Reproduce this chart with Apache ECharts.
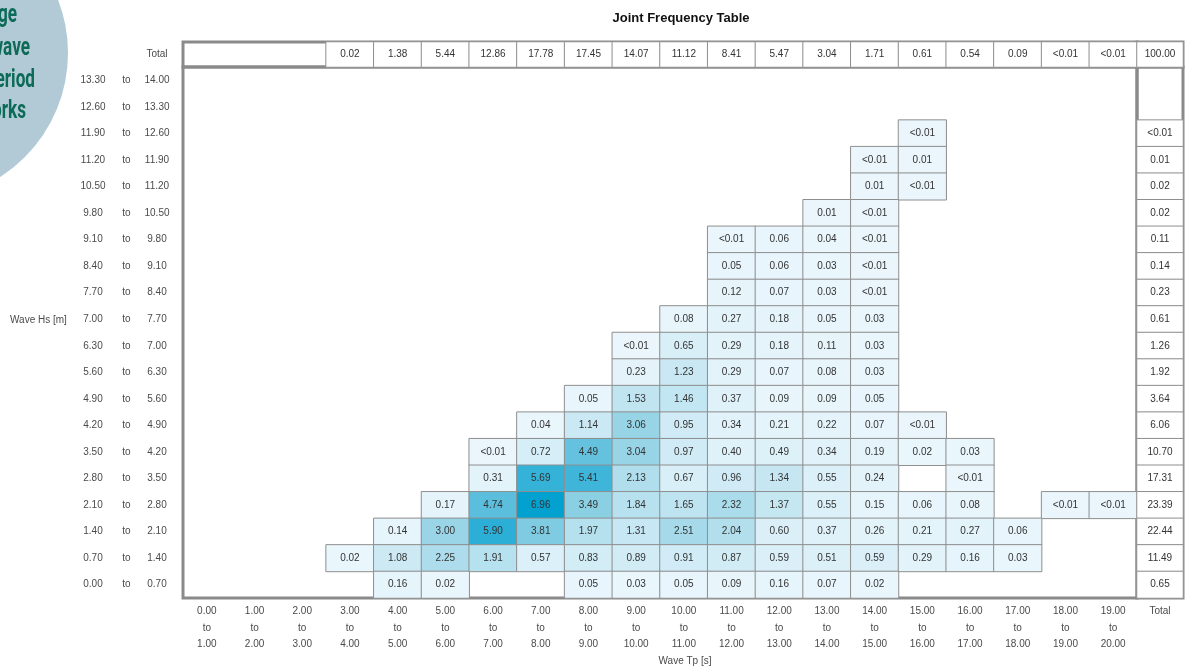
<!DOCTYPE html>
<html>
<head>
<meta charset="utf-8">
<script src="https://cdn.jsdelivr.net/npm/echarts@6/dist/echarts.min.js"></script>
<style>
  html, body { margin: 0; padding: 0; background: #fff; }
  #chart { width: 1186px; height: 666px; }
</style>
</head>
<body>
<div id="chart"></div>
<script>
// Wave period (Tp) bin edges, seconds
const tpEdges = ['0.00','1.00','2.00','3.00','4.00','5.00','6.00','7.00','8.00','9.00','10.00',
                 '11.00','12.00','13.00','14.00','15.00','16.00','17.00','18.00','19.00','20.00'];
// Significant wave height (Hs) bin edges, metres
const hsEdges = ['0.00','0.70','1.40','2.10','2.80','3.50','4.20','4.90','5.60','6.30','7.00',
                 '7.70','8.40','9.10','9.80','10.50','11.20','11.90','12.60','13.30','14.00'];

// Occurrence [%] per Hs bin, listed from the highest Hs row (13.30-14.00) down to 0.00-0.70.
// Columns follow tpEdges (0-1 s ... 19-20 s); '' = no occurrence.
const freqRows = [
  ['','','','','','','','','','','','','','','','','','','',''],
  ['','','','','','','','','','','','','','','','','','','',''],
  ['','','','','','','','','','','','','','','','<0.01','','','',''],
  ['','','','','','','','','','','','','','','<0.01','0.01','','','',''],
  ['','','','','','','','','','','','','','','0.01','<0.01','','','',''],
  ['','','','','','','','','','','','','','0.01','<0.01','','','','',''],
  ['','','','','','','','','','','','<0.01','0.06','0.04','<0.01','','','','',''],
  ['','','','','','','','','','','','0.05','0.06','0.03','<0.01','','','','',''],
  ['','','','','','','','','','','','0.12','0.07','0.03','<0.01','','','','',''],
  ['','','','','','','','','','','0.08','0.27','0.18','0.05','0.03','','','','',''],
  ['','','','','','','','','','<0.01','0.65','0.29','0.18','0.11','0.03','','','','',''],
  ['','','','','','','','','','0.23','1.23','0.29','0.07','0.08','0.03','','','','',''],
  ['','','','','','','','','0.05','1.53','1.46','0.37','0.09','0.09','0.05','','','','',''],
  ['','','','','','','','0.04','1.14','3.06','0.95','0.34','0.21','0.22','0.07','<0.01','','','',''],
  ['','','','','','','<0.01','0.72','4.49','3.04','0.97','0.40','0.49','0.34','0.19','0.02','0.03','','',''],
  ['','','','','','','0.31','5.69','5.41','2.13','0.67','0.96','1.34','0.55','0.24','','<0.01','','',''],
  ['','','','','','0.17','4.74','6.96','3.49','1.84','1.65','2.32','1.37','0.55','0.15','0.06','0.08','','<0.01','<0.01'],
  ['','','','','0.14','3.00','5.90','3.81','1.97','1.31','2.51','2.04','0.60','0.37','0.26','0.21','0.27','0.06','',''],
  ['','','','0.02','1.08','2.25','1.91','0.57','0.83','0.89','0.91','0.87','0.59','0.51','0.59','0.29','0.16','0.03','',''],
  ['','','','','0.16','0.02','','','0.05','0.03','0.05','0.09','0.16','0.07','0.02','','','','','']
];

// Row totals per Hs bin (same top-down order as freqRows)
const hsTotals = ['','','<0.01','0.01','0.02','0.02','0.11','0.14','0.23','0.61',
                  '1.26','1.92','3.64','6.06','10.70','17.31','23.39','22.44','11.49','0.65'];
// Column totals per Tp bin
const tpTotals = ['','','','0.02','1.38','5.44','12.86','17.78','17.45','14.07',
                  '11.12','8.41','5.47','3.04','1.71','0.61','0.54','0.09','<0.01','<0.01'];
const grandTotal = '100.00';

// Badge wording in the top-left corner
const badgeLines = ['Average', 'wave', 'period', 'works'];

// "<0.01" entries are coloured as half of the stated bound
const toValue = s => s.startsWith('<') ? parseFloat(s.slice(1)) / 2 : parseFloat(s);

const nRows = freqRows.length;
const cells = [];
freqRows.forEach((row, r) => {
  row.forEach((s, c) => { if (s) cells.push([c, nRows - 1 - r, toValue(s), s]); });
});
const colTotalCells = [];
tpTotals.forEach((s, c) => { if (s) colTotalCells.push([c, 0, toValue(s), s]); });
const rowTotalCells = [];
hsTotals.forEach((s, r) => { if (s) rowTotalCells.push([0, nRows - 1 - r, toValue(s), s]); });

const tpCats = tpEdges.slice(0, -1).map((lo, i) => lo + '-' + tpEdges[i + 1]);
const hsCats = hsEdges.slice(0, -1).map((lo, i) => lo + '-' + hsEdges[i + 1]);

const FONT = "'Liberation Sans', Arial, sans-serif";
const TXT = '#4a4a4a';
const FRAME = { show: true, borderColor: '#8a8a8a', borderWidth: 3, backgroundColor: 'transparent' };
const cellStyle = { borderColor: '#8e8e8e', borderWidth: 1 };
const cellLabel = { show: true, fontSize: 10, fontFamily: FONT, color: '#333', formatter: p => p.data[3] };
const rangeRich = {
  a: { width: 34, align: 'center', fontSize: 10, fontFamily: FONT, color: TXT },
  b: { width: 33, align: 'center', fontSize: 10, fontFamily: FONT, color: TXT },
  c: { width: 28, align: 'center', fontSize: 10, fontFamily: FONT, color: TXT }
};
const hidden = { axisLine: { show: false }, axisTick: { show: false }, axisLabel: { show: false }, splitLine: { show: false } };

// badge text: bold, horizontally condensed, right edges partly cut by the page edge
const badgeRight = [17, 30, 35, 26];
const badgeY = [15, 48, 80, 111];
const badgeText = badgeLines.map((t, i) => ({
  type: 'text', x: badgeRight[i], y: badgeY[i], scaleX: 0.66, silent: true, z: 1,
  style: { text: t, textAlign: 'right', textVerticalAlign: 'middle',
           font: "bold 26px Roboto, 'Open Sans', sans-serif", fill: '#0c6a57' }
}));

const chart = echarts.init(document.getElementById('chart'), null, { renderer: 'canvas' });
chart.setOption({
  animation: false,
  backgroundColor: '#fff',
  title: {
    text: 'Joint Frequency Table',
    left: 676, top: 7, textAlign: 'center',
    textStyle: { fontSize: 13, fontWeight: 'bold', fontFamily: FONT, color: '#111' }
  },
  grid: [
    Object.assign({ left: 183, top: 67, width: 954, height: 531 }, FRAME),   // frequency cells
    Object.assign({ left: 183, top: 42, width: 954, height: 25 }, FRAME),    // column totals
    Object.assign({ left: 1137, top: 67, width: 46, height: 531 }, FRAME),   // row totals
    Object.assign({ left: 1137, top: 42, width: 46, height: 25 }, FRAME)     // grand total
  ],
  xAxis: [
    {
      type: 'category', gridIndex: 0, data: tpCats,
      axisLine: { show: false }, axisTick: { show: false }, splitLine: { show: false },
      axisLabel: {
        margin: 5, fontSize: 10, fontFamily: FONT, color: TXT, lineHeight: 16.5, interval: 0,
        formatter: (v, i) => tpEdges[i] + '\nto\n' + tpEdges[i + 1]
      }
    },
    Object.assign({ type: 'category', gridIndex: 1, data: tpCats }, hidden),
    {
      type: 'category', gridIndex: 2, data: ['Total'],
      axisLine: { show: false }, axisTick: { show: false }, splitLine: { show: false },
      axisLabel: { margin: 5, fontSize: 10, fontFamily: FONT, color: TXT, lineHeight: 16.5, verticalAlign: 'top' }
    },
    Object.assign({ type: 'category', gridIndex: 3, data: ['Total'] }, hidden)
  ],
  yAxis: [
    {
      type: 'category', gridIndex: 0, data: hsCats,
      axisLine: { show: false }, axisTick: { show: false }, splitLine: { show: false },
      axisLabel: {
        margin: 12, interval: 0,
        formatter: (v, i) => '{a|' + hsEdges[i] + '}{b|to}{c|' + hsEdges[i + 1] + '}',
        rich: rangeRich
      }
    },
    {
      type: 'category', gridIndex: 1, data: ['Total'],
      axisLine: { show: false }, axisTick: { show: false }, splitLine: { show: false },
      axisLabel: { margin: 12, formatter: v => '{c|' + v + '}', rich: rangeRich }
    },
    Object.assign({ type: 'category', gridIndex: 2, data: hsCats }, hidden),
    Object.assign({ type: 'category', gridIndex: 3, data: ['Total'] }, hidden)
  ],
  visualMap: {
    type: 'continuous', show: false, seriesIndex: 0, dimension: 2,
    min: 0, max: 7,
    inRange: { color: ['#eaf6fc', '#8bcfe3', '#00a0d0'] }
  },
  series: [
    {
      type: 'heatmap', xAxisIndex: 0, yAxisIndex: 0, data: cells,
      itemStyle: cellStyle, label: cellLabel, emphasis: { disabled: true }
    },
    {
      type: 'heatmap', xAxisIndex: 1, yAxisIndex: 1, data: colTotalCells,
      itemStyle: Object.assign({ color: '#fff' }, cellStyle), label: cellLabel, emphasis: { disabled: true }
    },
    {
      type: 'heatmap', xAxisIndex: 2, yAxisIndex: 2, data: rowTotalCells,
      itemStyle: Object.assign({ color: '#fff' }, cellStyle), label: cellLabel, emphasis: { disabled: true }
    },
    {
      type: 'heatmap', xAxisIndex: 3, yAxisIndex: 3, data: [[0, 0, 100, grandTotal]],
      itemStyle: Object.assign({ color: '#fff' }, cellStyle), label: cellLabel, emphasis: { disabled: true }
    }
  ],
  graphic: [
    { type: 'circle', shape: { cx: -79, cy: 53, r: 147 }, style: { fill: '#b1cad5' }, silent: true, z: 0 }
  ].concat(badgeText, [
    // axis titles
    { type: 'text', x: 10, y: 320, style: { text: 'Wave Hs [m]', textVerticalAlign: 'middle',
        font: "10px 'Liberation Sans', Arial, sans-serif", fill: TXT } },
    { type: 'text', x: 685, y: 661, style: { text: 'Wave Tp [s]', textAlign: 'center', textVerticalAlign: 'middle',
        font: "10px 'Liberation Sans', Arial, sans-serif", fill: TXT } }
  ])
});
</script>
</body>
</html>
